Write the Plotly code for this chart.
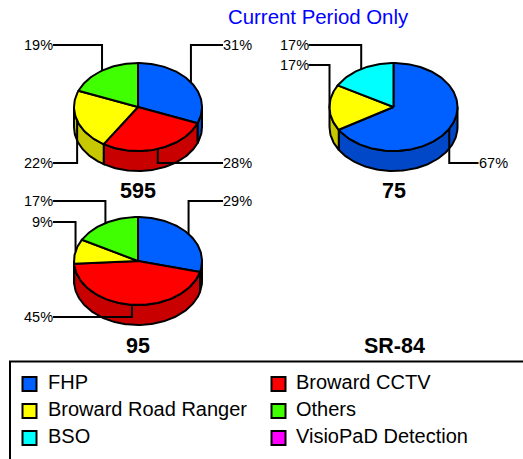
import numpy as np
import plotly.graph_objects as go

# ---- data ----
categories = ["FHP", "Broward CCTV", "Broward Road Ranger", "Others", "BSO", "VisioPaD Detection"]
pie_names = ["595", "75", "95", "SR-84"]
values_595 = [31, 28, 22, 19, 0, 0]
values_75 = [67, 0, 17, 0, 17, 0]
values_95 = [29, 45, 9, 17, 0, 0]
values_sr84 = [0, 0, 0, 0, 0, 0]
title_text = "Current Period Only"

# ---- styling / layout ----
top_colors = ["#0060FF", "#FF0000", "#FFFF00", "#40FF00", "#00FFFF", "#FF00FF"]
side_colors = ["#0048C8", "#C80000", "#C8C800", "#30C800", "#00C8C8", "#C800C8"]
FONT = "Liberation Sans"
W, H = 523, 459
RX, RY, DEPTH = 64, 44, 20
REACH = 85
centers = {"595": (138, 107), "75": (393.5, 107), "95": (138, 261), "SR-84": (394, 261)}
name_y = {"595": 191, "75": 191, "95": 346, "SR-84": 346}
# leader elbow height for each non-empty slice, in slice order
elbow_rows = {"595": [45, 163, 163, 45], "75": [163, 65, 45], "95": [201, 317, 222, 201], "SR-84": []}
legend_rows = [384, 411, 438]
legend_cols = [(29.5, 48), (278.5, 296)]

series = dict(zip(pie_names, [values_595, values_75, values_95, values_sr84]))
fig = go.Figure()
annotations = []


def rim(cx, cy, a0, a1, n=None):
    n = n or max(2, int(abs(a1 - a0) * 40))
    t = np.linspace(a0, a1, n)
    return cx + RX * np.sin(t), cy - RY * np.cos(t)


def poly(x, y, color):
    fig.add_trace(go.Scatter(
        x=list(x), y=list(y), mode="lines", fill="toself", fillcolor=color,
        line=dict(color="black", width=2), hoverinfo="skip", showlegend=False))


def line(x, y):
    fig.add_trace(go.Scatter(
        x=list(x), y=list(y), mode="lines",
        line=dict(color="black", width=2), hoverinfo="skip", showlegend=False))


for name in pie_names:
    vals = series[name]
    cx, cy = centers[name]
    total = sum(vals)
    if total:
        slices = []
        acc = 0
        for i, v in enumerate(vals):
            if v:
                slices.append((i, v, 2 * np.pi * acc / total, 2 * np.pi * (acc + v) / total))
                acc += v
        # extruded side: only the front half of the disc shows
        for i, v, a0, a1 in slices:
            s0, s1 = max(a0, np.pi / 2), min(a1, 3 * np.pi / 2)
            if s1 > s0:
                xt, yt = rim(cx, cy, s0, s1)
                poly(np.r_[xt, xt[::-1], xt[0]], np.r_[yt, yt[::-1] + DEPTH, yt[0]], side_colors[i])
        # top face
        for i, v, a0, a1 in slices:
            xt, yt = rim(cx, cy, a0, a1)
            poly(np.r_[cx, xt, cx], np.r_[cy, yt, cy], top_colors[i])
        # leader lines and value labels
        for (i, v, a0, a1), row in zip(slices, elbow_rows[name]):
            mid = (a0 + a1) / 2
            xm, ym = cx + RX * np.sin(mid), cy - RY * np.cos(mid)
            right = np.sin(mid) >= 0
            xe = cx + REACH if right else cx - REACH
            line([xm, xm, xe], [ym, row, row])
            annotations.append(dict(
                x=xe, y=row, xref="x", yref="y", text=f"{v}%", showarrow=False,
                xanchor="left" if right else "right", yanchor="middle",
                xshift=-2 if right else 2,
                font=dict(family=FONT, size=14.5, color="black")))
    annotations.append(dict(
        x=cx, y=name_y[name], xref="x", yref="y", text=f"<b>{name}</b>", showarrow=False,
        xanchor="center", yanchor="middle", font=dict(family=FONT, size=21.5, color="black")))

# legend
for k, cat in enumerate(categories):
    col = legend_cols[k % 2]
    row = legend_rows[k // 2]
    fig.add_trace(go.Scatter(
        x=[col[0]], y=[row], mode="markers", hoverinfo="skip", showlegend=False,
        marker=dict(symbol="square", size=14, color=top_colors[k], line=dict(color="black", width=2))))
    annotations.append(dict(
        x=col[1], y=row - 2, xref="x", yref="y", text=cat, showarrow=False, xshift=-2,
        xanchor="left", yanchor="middle", font=dict(family=FONT, size=20, color="black")))

annotations.append(dict(
    x=318, y=17, xref="x", yref="y", text=title_text, showarrow=False,
    xanchor="center", yanchor="middle", font=dict(family=FONT, size=20.4, color="#0000FF")))

fig.update_layout(
    width=W, height=H, margin=dict(l=0, r=0, t=0, b=0, pad=0),
    paper_bgcolor="white", plot_bgcolor="white", showlegend=False,
    xaxis=dict(range=[0, W], visible=False, fixedrange=True),
    yaxis=dict(range=[H, 0], visible=False, fixedrange=True),
    annotations=annotations,
    shapes=[dict(type="rect", xref="x", yref="y", x0=10, x1=W + 5, y0=361.5, y1=H + 5,
                 line=dict(color="black", width=2), fillcolor="rgba(0,0,0,0)", layer="below")],
)
fig.write_html("out.html", config=dict(displayModeBar=False),
               post_script="document.body.style.margin='0';document.body.style.overflow='hidden';")
